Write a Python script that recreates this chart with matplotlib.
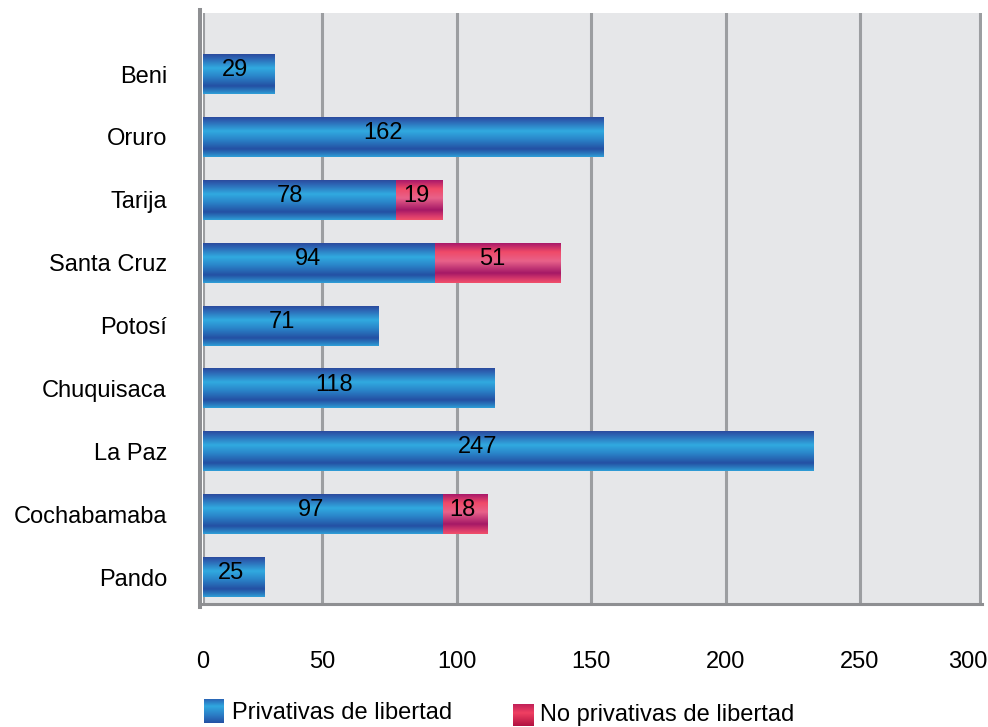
import numpy as np
import matplotlib
matplotlib.use("Agg")
import matplotlib.pyplot as plt
from matplotlib.colors import LinearSegmentedColormap
from matplotlib.transforms import offset_copy

# Datos por departamento
departamentos = ["Beni", "Oruro", "Tarija", "Santa Cruz", "Potosí",
                 "Chuquisaca", "La Paz", "Cochabamaba", "Pando"]
privativas = [29, 162, 78, 94, 71, 118, 247, 97, 25]
no_privativas = [0, 0, 19, 51, 0, 0, 0, 18, 0]

# Eje horizontal
tick_labels = ["0", "50", "100", "150", "200", "250", "300"]
tick_pos = [0, 48.2, 102.8, 157.1, 211.7, 266.0, 314.6]

plt.rcParams["font.family"] = ["Liberation Sans", "DejaVu Sans"]
FS = 17

fig = plt.figure(figsize=(9.88, 7.27), dpi=100)
ax = fig.add_axes([0.2055, 0.1692, 0.7885, 0.8129])
ax.set_facecolor("#e6e7e9")

azul = LinearSegmentedColormap.from_list("azul", [
    (0.00, "#2b4b9d"), (0.08, "#2c5eaf"), (0.35, "#31aae0"),
    (0.55, "#2a86ca"), (0.80, "#2450a3"), (0.92, "#2a7cc0"),
    (1.00, "#2fa0d8")])
rosa = LinearSegmentedColormap.from_list("rosa", [
    (0.00, "#a8186a"), (0.22, "#f04a68"), (0.45, "#e8628a"),
    (0.75, "#a51866"), (0.90, "#d83a6c"), (1.00, "#f2506a")])
grad = np.linspace(0, 1, 256).reshape(-1, 1)

y = np.arange(len(departamentos))[::-1]
h = 0.636

b1 = ax.barh(y, privativas, height=h, color="none", edgecolor="none")
b2 = ax.barh(y, no_privativas, left=privativas, height=h,
             color="none", edgecolor="none")


def rellenar(bars, cmap):
    for bar in bars:
        x0, y0 = bar.get_x(), bar.get_y()
        w, hh = bar.get_width(), bar.get_height()
        if w <= 0:
            continue
        ax.imshow(grad, cmap=cmap, extent=[x0, x0 + w, y0, y0 + hh],
                  origin="upper", aspect="auto", interpolation="bilinear",
                  zorder=2)


rellenar(b1, azul)
rellenar(b2, rosa)

# Etiquetas de valores
for yi, p, n in zip(y, privativas, no_privativas):
    ax.text(0.45 * p, yi - 0.035, str(p), ha="center", va="baseline",
            fontsize=FS, color="black", zorder=4)
    if n > 0:
        ax.text(p + 0.45 * n, yi - 0.035, str(n), ha="center",
                va="baseline", fontsize=FS, color="black", zorder=4)

ax.set_xlim(0, 315.4)
ax.set_ylim(-0.429, 8.97)

ax.set_yticks(y, departamentos)
ax.tick_params(axis="y", length=0, pad=24, labelsize=FS)
ax.set_xticks(tick_pos, tick_labels)
ax.tick_params(axis="x", length=0, pad=34, labelsize=FS)

# El último rótulo se corre un poco a la izquierda para que no se corte
ultimo = ax.get_xticklabels()[-1]
ultimo.set_transform(offset_copy(ultimo.get_transform(), fig=fig,
                                 x=-12, y=0, units="dots"))

ax.grid(axis="x", color="#9c9ea1", lw=2.2)
ax.grid(axis="y", visible=False)
ax.set_axisbelow(True)

for s in ("top", "right"):
    ax.spines[s].set_visible(False)
ax.spines["left"].set_color("#8e8f92")
ax.spines["left"].set_linewidth(2.9)
ax.spines["left"].set_position(("outward", 2))
ax.spines["left"].set_bounds(-0.48, 9.02)
ax.spines["bottom"].set_color("#8e8f92")
ax.spines["bottom"].set_linewidth(2.2)

# Leyenda
W, H = 988.0, 727.0
leg_azul = LinearSegmentedColormap.from_list("leg_azul", [
    (0.0, "#2a64b4"), (0.3, "#30a8e0"), (0.7, "#2a78c2"), (1.0, "#2450a3")])
leg_rosa = LinearSegmentedColormap.from_list("leg_rosa", [
    (0.0, "#c02058"), (0.4, "#f04062"), (1.0, "#b01040")])

for (x0, x1, ytop, ybot, cmap) in [(204, 224, 699, 723, leg_azul),
                                   (513, 534, 704, 726, leg_rosa)]:
    pax = fig.add_axes([x0 / W, 1 - ybot / H, (x1 - x0) / W, (ybot - ytop) / H])
    pax.imshow(grad, cmap=cmap, aspect="auto", interpolation="bilinear")
    pax.axis("off")

fig.text(232 / W, 1 - 719 / H, "Privativas de libertad", fontsize=FS,
         va="baseline", ha="left")
fig.text(540 / W, 1 - 721 / H, "No privativas de libertad", fontsize=FS,
         va="baseline", ha="left")

fig.savefig("out.png", dpi=100, facecolor="white")
